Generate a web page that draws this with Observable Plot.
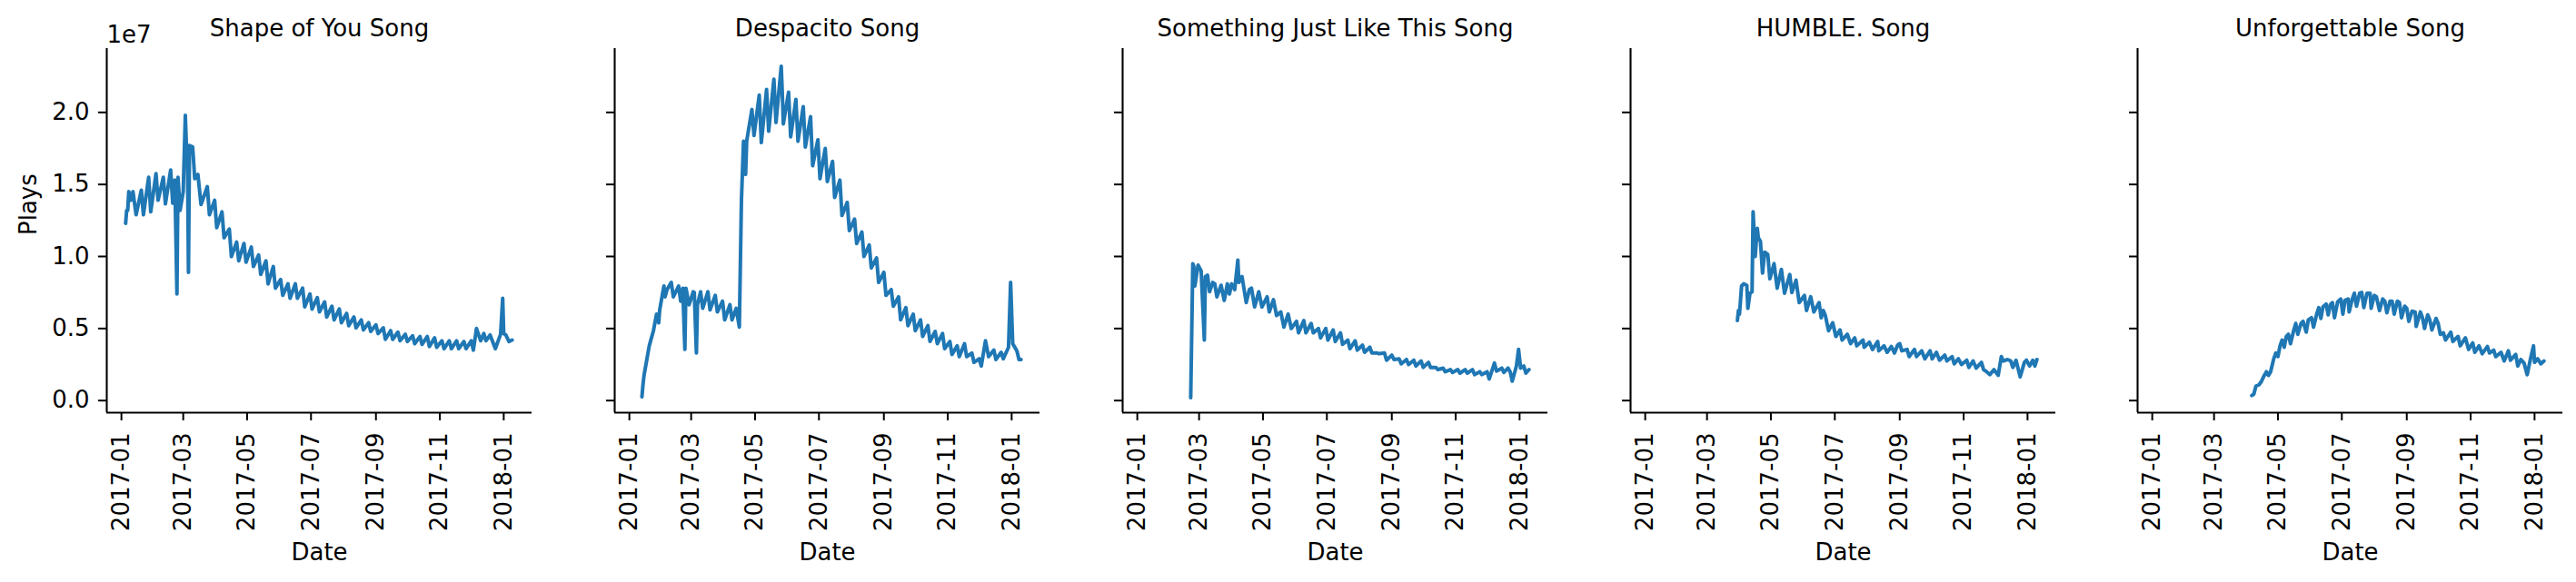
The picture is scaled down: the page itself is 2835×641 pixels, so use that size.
<!DOCTYPE html>
<html>
<head>
<meta charset="utf-8">
<script src="https://cdn.jsdelivr.net/npm/d3@7"></script>
<script src="https://cdn.jsdelivr.net/npm/@observablehq/plot@0.6"></script>
<style>
  body { margin: 0; background: #fff; }
  #chart { position: relative; width: 2835px; height: 641px; background: #fff; overflow: hidden; }
  #chart svg { position: absolute; top: 0; }
</style>
</head>
<body>
<div id="chart"></div>
<script>
// song titles, one panel each
const songs = ["Shape of You Song", "Despacito Song", "Something Just Like This Song", "HUMBLE. Song", "Unforgettable Song"]

// [days after 2017-01-01, plays in millions]
const shapeOfYou = [[4,12.3],[5,13.2],[6,13.2],[7,14.5],[9,13.9],[11,14.5],[14,12.9],[19,14.6],[21,12.9],[26,15.5],[28,13.1],[33,15.75],[35,13.9],[40,15.5],[42,13.65],[47,16.0],[49,13.7],[51,15.3],[53,7.4],[54,15.5],[56,13.2],[59,14.5],[61,19.8],[62,17.8],[63,17.6],[64,8.9],[65,17.7],[68,17.6],[70,15.4],[73,15.7],[76,13.6],[82,14.85],[84,12.9],[89,13.9],[91,12.0],[96,13.1],[98,11.3],[103,11.9],[105,10.0],[110,11.0],[112,9.7],[117,10.9],[119,9.6],[124,10.65],[126,9.3],[131,10.1],[133,8.75],[138,9.7],[140,8.1],[145,9.3],[147,7.8],[152,8.4],[154,7.3],[159,8.1],[161,7.1],[166,8.1],[168,7.1],[173,7.8],[175,6.5],[180,7.4],[182,6.35],[187,7.15],[189,6.15],[194,6.85],[196,5.8],[201,6.55],[203,5.6],[208,6.35],[210,5.4],[215,6.05],[217,5.2],[222,5.8],[224,5.05],[229,5.6],[231,4.9],[236,5.4],[238,4.8],[243,5.25],[245,4.65],[250,5.05],[252,4.25],[257,4.85],[259,4.25],[264,4.75],[266,4.15],[271,4.6],[273,4.1],[278,4.5],[280,3.95],[285,4.45],[287,3.9],[292,4.45],[294,3.75],[299,4.35],[301,3.7],[306,4.15],[308,3.6],[313,4.15],[315,3.6],[320,4.15],[322,3.6],[327,4.1],[329,3.6],[334,4.15],[336,3.5],[339,5.0],[343,4.15],[346,4.65],[348,4.15],[352,4.55],[357,3.6],[362,4.6],[364,7.1],[365,4.65],[367,4.55],[370,4.1],[373,4.2]]

const despacito = [[12,0.26],[13,1.1],[14,1.75],[19,3.8],[23,4.85],[26,6.0],[28,5.4],[29,6.3],[33,7.95],[34,7.2],[36,7.7],[40,8.2],[42,7.2],[47,7.95],[49,6.9],[51,7.8],[53,3.55],[54,7.8],[57,6.65],[61,7.55],[62,7.5],[64,3.3],[65,6.65],[68,7.55],[70,6.4],[75,7.55],[77,6.3],[82,7.3],[84,6.15],[89,6.9],[91,5.6],[96,6.65],[98,5.6],[102,6.4],[105,5.1],[107,13.9],[109,18.0],[111,15.7],[112,18.0],[117,20.2],[119,18.4],[124,21.2],[126,17.9],[131,21.6],[133,18.7],[138,22.3],[140,19.3],[145,23.2],[146,21.4],[147,19.2],[152,21.4],[154,18.3],[159,20.9],[161,18.0],[166,20.4],[168,17.6],[173,19.7],[175,16.3],[180,18.1],[182,15.4],[187,17.5],[189,15.2],[194,16.6],[196,14.1],[201,15.3],[203,12.85],[208,13.75],[210,11.8],[215,12.6],[217,10.9],[222,11.7],[224,10.0],[229,10.8],[231,9.2],[236,9.9],[238,8.2],[243,8.9],[245,7.3],[250,7.7],[252,6.55],[257,7.2],[259,5.6],[264,6.45],[266,5.2],[271,6.0],[273,4.85],[278,5.6],[280,4.45],[285,5.2],[287,4.1],[292,4.8],[294,3.95],[299,4.65],[301,3.6],[306,4.1],[308,3.2],[313,3.8],[315,3.05],[320,3.95],[322,3.05],[327,3.3],[329,2.65],[334,2.9],[336,2.4],[340,4.15],[343,3.05],[348,3.5],[350,2.85],[355,3.35],[357,2.9],[362,3.7],[364,8.2],[366,3.95],[370,3.45],[372,2.85],[374,2.85]]

const somethingJustLikeThis = [[51,0.2],[53,9.5],[54,9.3],[55,7.95],[58,9.4],[61,9.0],[64,4.2],[65,8.6],[67,8.7],[69,7.55],[72,8.2],[74,8.1],[76,7.2],[80,8.0],[83,6.95],[86,8.1],[88,7.4],[90,8.1],[93,7.7],[96,9.75],[97,8.2],[100,8.6],[104,6.8],[107,7.7],[109,7.8],[112,6.5],[116,7.55],[119,6.5],[124,7.2],[126,6.15],[130,7.0],[133,5.9],[137,6.15],[140,5.1],[144,6.0],[147,5.0],[152,5.5],[154,4.7],[159,5.55],[161,4.7],[166,5.35],[168,4.7],[173,5.0],[175,4.35],[180,5.0],[182,4.2],[187,4.9],[189,4.1],[194,4.7],[196,3.9],[201,4.2],[203,3.6],[208,4.15],[210,3.5],[215,3.85],[217,3.35],[222,3.7],[224,3.3],[229,3.3],[231,3.25],[236,3.3],[238,2.8],[243,3.15],[245,2.85],[250,2.9],[252,2.55],[257,2.85],[259,2.5],[264,2.8],[266,2.4],[271,2.75],[273,2.3],[278,2.65],[280,2.3],[285,2.3],[287,2.15],[292,2.25],[294,2.0],[299,2.15],[301,1.95],[306,2.15],[308,1.9],[313,2.15],[315,1.9],[320,2.15],[322,1.8],[327,2.0],[329,1.8],[334,2.0],[336,1.5],[341,2.6],[343,2.05],[348,2.25],[350,1.95],[354,2.25],[356,2.0],[358,1.35],[362,2.4],[364,3.55],[366,2.25],[369,2.4],[371,1.9],[374,2.15]]

const humble = [[88,5.55],[89,6.25],[90,6.0],[92,7.95],[94,8.1],[97,8.0],[98,6.4],[100,7.45],[102,7.55],[103,13.1],[105,10.0],[107,11.95],[108,11.3],[110,11.05],[112,8.85],[114,10.3],[117,10.15],[119,8.45],[123,9.5],[126,7.8],[130,9.1],[133,7.45],[138,8.75],[140,7.5],[144,8.35],[147,6.8],[152,7.3],[154,6.25],[158,7.2],[161,6.15],[166,6.8],[168,5.75],[170,6.25],[172,5.9],[175,4.85],[179,5.4],[182,4.45],[186,4.9],[188,4.2],[193,4.6],[196,3.95],[200,4.35],[202,3.8],[208,4.2],[209,3.7],[214,4.05],[217,3.55],[222,4.1],[223,3.45],[228,3.8],[231,3.35],[235,3.75],[238,3.3],[241,3.85],[243,3.95],[245,3.45],[250,3.55],[252,3.05],[257,3.55],[259,3.05],[264,3.45],[267,2.9],[272,3.45],[274,2.9],[278,3.35],[281,2.8],[286,3.15],[288,2.75],[293,3.05],[295,2.55],[299,2.9],[302,2.5],[307,2.8],[309,2.3],[313,2.75],[316,2.25],[321,2.65],[323,2.15],[326,2.0],[329,1.8],[333,2.15],[337,1.75],[340,3.05],[342,2.75],[346,2.85],[349,2.75],[351,2.3],[354,2.8],[358,1.65],[362,2.65],[364,2.8],[367,2.4],[370,2.8],[372,2.4],[374,2.85]]

const unforgettable = [[95,0.35],[97,0.45],[99,1.0],[102,1.1],[104,1.3],[107,1.75],[109,2.0],[111,1.75],[113,2.0],[116,2.9],[118,3.3],[120,3.05],[122,3.8],[124,4.2],[126,3.7],[128,4.45],[130,4.6],[132,3.95],[135,4.85],[137,5.35],[139,4.6],[142,5.35],[144,5.5],[147,4.75],[149,5.6],[152,5.75],[154,5.1],[157,6.0],[159,6.45],[161,5.7],[163,6.5],[166,6.7],[168,5.95],[170,6.65],[172,6.8],[174,5.75],[177,6.85],[180,7.05],[182,6.0],[184,6.95],[187,7.05],[188,6.15],[191,7.05],[193,7.45],[195,6.55],[198,7.45],[200,7.5],[202,6.45],[205,7.45],[208,7.45],[209,6.4],[212,7.3],[214,7.2],[217,6.25],[220,7.05],[222,6.9],[224,6.1],[227,6.9],[229,6.9],[231,6.0],[234,6.9],[236,6.8],[238,5.75],[241,6.55],[243,6.4],[245,5.5],[248,6.2],[251,6.15],[252,5.15],[256,6.15],[258,5.75],[260,5.0],[263,5.95],[265,5.6],[267,4.9],[271,5.7],[273,5.35],[275,4.6],[278,4.7],[280,4.2],[285,4.75],[287,4.1],[292,4.45],[294,3.8],[299,4.35],[302,3.55],[306,4.0],[308,3.35],[312,3.8],[315,3.25],[320,3.75],[322,3.3],[326,3.5],[328,3.05],[333,3.35],[336,2.75],[340,3.45],[342,2.8],[347,3.2],[349,2.4],[352,2.85],[355,2.6],[358,1.8],[361,2.85],[364,3.8],[365,2.65],[368,2.9],[371,2.55],[374,2.75]]

const seriesBySong = [shapeOfYou, despacito, somethingJustLikeThis, humble, unforgettable]

const startDate = "2017-01-01"
const xTicks = ["2017-01-01", "2017-03-01", "2017-05-01", "2017-07-01", "2017-09-01", "2017-11-01", "2018-01-01"]
const xDomain = ["2016-12-18", "2018-01-28"]
const yTicks = [0, 5e6, 1e7, 1.5e7, 2e7]
const yTickLabels = ["0.0", "0.5", "1.0", "1.5", "2.0"]
const yDomain = [-0.084e7, 2.443e7]

// panel layout
const panelX = [117, 676, 1235, 1794, 2352]
const mL = 117, mR = 30, frameW = 468
const blue = "#1f77b4"

const start = new Date(startDate)

songs.forEach((song, k) => {
  const rows = seriesBySong[k].map(([day, m]) => ({date: d3.utcDay.offset(start, day), plays: m * 1e6}))
  const first = k === 0

  let marks = [
    Plot.axisX({
      ticks: xTicks.map(d => new Date(d)),
      tickFormat: d3.utcFormat("%Y-%m"),
      tickRotate: -90, tickSize: 9, tickPadding: 13, strokeWidth: 2, label: null
    }),
    Plot.axisY({
      ticks: yTicks,
      tickFormat: d => first ? yTickLabels[yTicks.indexOf(d)] : "",
      tickSize: 9, tickPadding: 10, strokeWidth: 2, label: null
    }),
    Plot.ruleX([new Date(xDomain[0])], {strokeWidth: 2.1}),
    Plot.ruleY([yDomain[0]], {strokeWidth: 2.1}),
    Plot.line(rows, {x: "date", y: "plays", stroke: blue, strokeWidth: 4, strokeLinejoin: "round"}),
    Plot.text([song], {text: d => d, frameAnchor: "top", lineAnchor: "bottom", dy: -14}),
    Plot.text(["Date"], {text: d => d, frameAnchor: "bottom", lineAnchor: "bottom", dy: 162})
  ]
  if (first) {
    marks.push(
      Plot.text(["Plays"], {text: d => d, frameAnchor: "left", rotate: -90, dx: -86, dy: 5}),
      Plot.text(["1e7"], {text: d => d, frameAnchor: "top-left", textAnchor: "start", lineAnchor: "bottom", dy: -7})
    )
  }

  const chart = Plot.plot({
    width: mL + frameW + mR,
    height: 641,
    marginLeft: mL, marginRight: mR, marginTop: 53, marginBottom: 187,
    style: {fontFamily: "DejaVu Sans", fontSize: "26px", background: "transparent", color: "black", overflow: "visible"},
    x: {type: "utc", domain: xDomain.map(d => new Date(d))},
    y: {domain: yDomain},
    marks
  })
  chart.style.left = (panelX[k] - mL) + "px"
  d3.select('#chart').append(() => chart)
})
</script>
</body>
</html>
